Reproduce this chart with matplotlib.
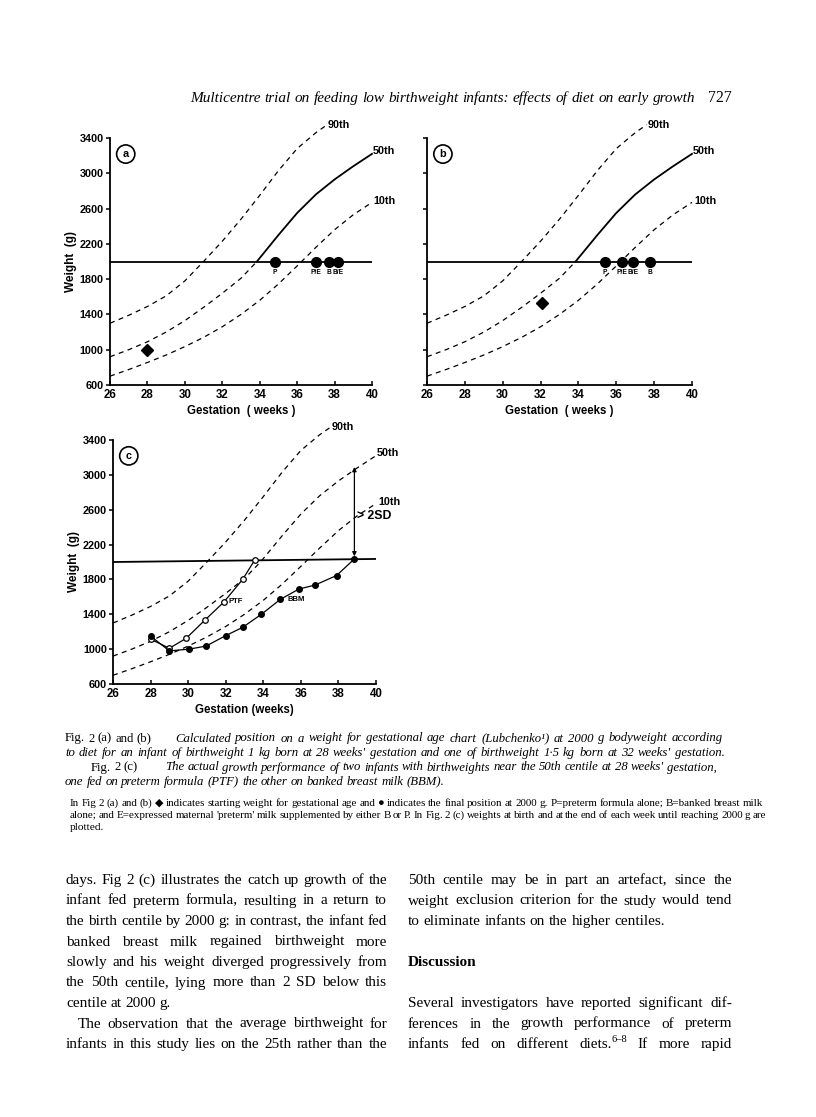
import matplotlib
matplotlib.use("Agg")
import matplotlib.pyplot as plt
from matplotlib import font_manager

W, H = 816, 1117

# ---- data ----
x_ticks = [26, 28, 30, 32, 34, 36, 38, 40]
y_ticks = [600, 1000, 1400, 1800, 2200, 2600, 3000, 3400]

# Lubchenko centiles (weeks, g)
weeks_90 = [26, 27, 28, 29, 30, 31, 32, 33, 34, 35, 36, 37, 37.6]
grams_90 = [1300, 1390, 1490, 1610, 1780, 2000, 2230, 2480, 2750, 3030, 3280, 3460, 3550]
weeks_50 = [26, 27, 28, 29, 30, 31, 32, 33, 33.85, 35, 36, 37, 38, 39, 40]
grams_50 = [920, 1000, 1090, 1200, 1330, 1480, 1640, 1810, 2000, 2300, 2550, 2760, 2930, 3080, 3220]
weeks_10 = [26, 27, 28, 29, 30, 31, 32, 33, 34, 35, 36, 37, 38, 39, 40]
grams_10 = [700, 775, 855, 940, 1035, 1140, 1260, 1400, 1560, 1745, 1950, 2160, 2360, 2530, 2670]

# panel (a): birthweight 1 kg at 28 weeks
start_a = (28, 1000)
final_a_weeks = [34.8, 37.0, 37.7, 38.2]
final_a_labels = ["P", "P/E", "B", "B/E"]
# panel (b): birthweight 1.5 kg at 32 weeks
start_b = (32.1, 1530)
final_b_weeks = [35.4, 36.3, 36.9, 37.8]
final_b_labels = ["P", "P/E", "B/E", "B"]

# panel (c): actual growth of two infants
ptf_weeks = [28.0, 29.0, 29.9, 30.9, 31.9, 32.9, 33.55]
ptf_grams = [1115, 1010, 1125, 1335, 1540, 1800, 2025]
bbm_weeks = [28.0, 29.0, 30.05, 30.95, 32.0, 32.9, 33.9, 34.9, 35.9, 36.75, 37.9, 38.85]
bbm_grams = [1150, 980, 1000, 1035, 1155, 1250, 1400, 1570, 1690, 1735, 1845, 2035]
hline_c = [2000, 2035]
sd_arrow = (38.85, 3090, 2065)

# ---- fonts ----
names = {f.name for f in font_manager.fontManager.ttflist}
chart_font = "Liberation Sans Narrow" if "Liberation Sans Narrow" in names else "Liberation Sans"
serif = ["Liberation Serif", "DejaVu Serif"]
plt.rcParams["font.family"] = [chart_font, "DejaVu Sans"]
plt.rcParams["font.weight"] = "bold"

fig = plt.figure(figsize=(W / 100, H / 100), dpi=100)
renderer = fig.canvas.get_renderer()


def rect(l, t, r, b):
    return [l / W, 1 - b / H, (r - l) / W, (b - t) / H]


def style_axes(ax, ylabels=True, xlabel="Gestation  ( weeks )"):
    ax.set_xlim(26, 40)
    ax.set_ylim(600, 3400)
    ax.set_xticks(x_ticks)
    ax.set_yticks(y_ticks)
    for s in ["top", "right"]:
        ax.spines[s].set_visible(False)
    for s in ["left", "bottom"]:
        ax.spines[s].set_linewidth(1.3)
    ax.tick_params(axis="y", direction="out", length=3, width=1.1, pad=1.5, labelsize=7.8,
                   labelleft=ylabels)
    ax.tick_params(axis="x", direction="in", length=3, width=1.1, pad=3, labelsize=8.3)
    ax.set_xlabel(xlabel, fontsize=8.3, fontweight="bold", labelpad=3)
    if ylabels:
        ax.set_ylabel("Weight  (g)", fontsize=8.5, fontweight="bold", labelpad=2)
    ax.patch.set_alpha(0)


dash = (0, (4, 3.5))


def centiles(ax, solid50):
    ax.plot(weeks_90, grams_90, color="black", lw=0.9, ls=dash, clip_on=False)
    ax.plot(weeks_10, grams_10, color="black", lw=0.9, ls=dash, clip_on=False)
    if solid50:
        k = weeks_50.index(33.85)
        ax.plot(weeks_50[:k + 1], grams_50[:k + 1], color="black", lw=0.9, ls=dash)
        ax.plot(weeks_50[k:], grams_50[k:], color="black", lw=1.3, clip_on=False)
    else:
        ax.plot(weeks_50, grams_50, color="black", lw=0.9, ls=dash, clip_on=False)
    kw = dict(fontsize=7.8, fontweight="bold", va="center", ha="left")
    ax.text(weeks_90[-1] + 0.05, grams_90[-1], "90th", **kw)
    ax.text(weeks_50[-1] + 0.05, grams_50[-1] + 30, "50th", **kw)
    ax.text(weeks_10[-1] + 0.1, grams_10[-1] + 20, "10th", **kw)


def panel_tag(ax, letter):
    ax.text(0.06, 0.935, letter, transform=ax.transAxes, fontsize=7.8, fontweight="bold",
            ha="center", va="center",
            bbox=dict(boxstyle="circle,pad=0.38", fc="white", ec="black", lw=1.2))


def finals(ax, weeks, labels):
    ax.plot(weeks, [2000] * len(weeks), "o", ms=7, color="black")
    for w, lab in zip(weeks, labels):
        ax.text(w, 1875, lab, fontsize=4.8, fontweight="bold", ha="center", va="center")


# ---- panel (a) ----
ax_a = fig.add_axes(rect(110, 138, 372, 385))
style_axes(ax_a)
centiles(ax_a, True)
ax_a.plot([26, 40], [2000, 2000], color="black", lw=1.3)
ax_a.plot(*start_a, marker="D", ms=6.5, color="black")
finals(ax_a, final_a_weeks, final_a_labels)
panel_tag(ax_a, "a")

# ---- panel (b) ----
ax_b = fig.add_axes(rect(427, 138, 692, 385))
style_axes(ax_b, ylabels=False)
centiles(ax_b, True)
ax_b.plot([26, 40], [2000, 2000], color="black", lw=1.3)
ax_b.plot(*start_b, marker="D", ms=6.5, color="black")
finals(ax_b, final_b_weeks, final_b_labels)
panel_tag(ax_b, "b")

# ---- panel (c) ----
ax_c = fig.add_axes(rect(113, 440, 376, 684))
style_axes(ax_c, xlabel="Gestation (weeks)")
centiles(ax_c, False)
ax_c.plot([26, 40], hline_c, color="black", lw=1.3)
ax_c.plot(ptf_weeks, ptf_grams, "-o", color="black", lw=0.9, ms=4, mfc="white", mew=0.9)
ax_c.plot(bbm_weeks, bbm_grams, "-o", color="black", lw=0.9, ms=4)
ax_c.annotate("", xy=(sd_arrow[0], sd_arrow[1]), xytext=(sd_arrow[0], sd_arrow[2]),
              arrowprops=dict(arrowstyle="<|-|>", lw=0.9, color="black", mutation_scale=6,
                              shrinkA=0, shrinkB=0))
ax_c.text(39.0, 2530, "> 2SD", fontsize=8.8, fontweight="bold", ha="left", va="center")
ax_c.text(32.15, 1545, "PTF", fontsize=5.5, fontweight="bold", ha="left", va="center")
ax_c.text(35.3, 1570, "BBM", fontsize=5.5, fontweight="bold", ha="left", va="center")
panel_tag(ax_c, "c")


# ---- page text ----
def place(text, props, x0, y, x1=None):
    """Draw the words of text from x0 on baseline y (page pixels); with x1 the
    line is justified to end at x1, shrinking the type if it would not fit."""
    words = text.split()
    props = dict(props)
    while True:
        objs = [fig.text(0, 1 - y / H, w, va="baseline", ha="left", **props) for w in words]
        widths = [t.get_window_extent(renderer).width for t in objs]
        em = props["fontsize"] * 100 / 72
        gap = em * 0.25
        if x1 is None or len(words) < 2:
            break
        gap = (x1 - x0 - sum(widths)) / (len(words) - 1)
        if gap >= em * 0.18:
            break
        for t in objs:
            t.remove()
        props["fontsize"] *= 0.97
    x = x0
    for t, wd in zip(objs, widths):
        t.set_x(x / W)
        x += wd + gap
    return x


hdr = dict(fontsize=11.3, family=serif, style="italic", weight="normal")
place("Multicentre trial on feeding low birthweight infants: effects of diet on early growth", hdr,
      190, 102, 695)
fig.text(732 / W, 1 - 102 / H, "727", fontsize=11.3, family=serif, weight="normal",
         ha="right", va="baseline")

cap_r = dict(fontsize=9.2, family=serif, weight="normal")
cap_i = dict(fontsize=9.2, family=serif, weight="normal", style="italic")
place("Fig. 2 (a) and (b)", cap_r, 65, 741.5)
place("Calculated position on a weight for gestational age chart (Lubchenko\u00b9) at 2000 g bodyweight according",
      cap_i, 175, 741.5, 723)
place("to diet for an infant of birthweight 1 kg born at 28 weeks' gestation and one of birthweight 1\u00b75 kg born at 32 weeks' gestation.",
      cap_i, 65, 756, 725)
place("Fig. 2 (c)", cap_r, 91, 770.5)
place("The actual growth performance of two infants with birthweights near the 50th centile at 28 weeks' gestation,",
      cap_i, 165, 770.5)
place("one fed on preterm formula (PTF) the other on banked breast milk (BBM).", cap_i, 65, 785)

note = dict(fontsize=8.2, family=["Liberation Serif", "DejaVu Sans"], weight="normal")
place("In Fig 2 (a) and (b) \u25c6 indicates starting weight for gestational age and \u25cf indicates the final "
      "position at 2000 g. P=preterm formula alone; B=banked breast milk", note, 70, 806, 763)
place("alone; and E=expressed maternal 'preterm' milk supplemented by either B or P. In Fig. 2 (c) weights "
      "at birth and at the end of each week until reaching 2000 g are", note, 70, 818, 766)
place("plotted.", note, 70, 830)

body = dict(fontsize=11, family=serif, weight="normal")
left_lines = [
    ("days. Fig 2 (c) illustrates the catch up growth of the", True),
    ("infant fed preterm formula, resulting in a return to", True),
    ("the birth centile by 2000 g: in contrast, the infant fed", True),
    ("banked breast milk regained birthweight more", True),
    ("slowly and his weight diverged progressively from", True),
    ("the 50th centile, lying more than 2 SD below this", True),
    ("centile at 2000 g.", False),
    ("The observation that the average birthweight for", True),
    ("infants in this study lies on the 25th rather than the", True),
]
y0, dy = 884, 20.5
for i, (line, just) in enumerate(left_lines):
    x0 = 78 if line.startswith("The obs") else 66
    place(line, body, x0, y0 + i * dy, 387 if just else None)

right_lines = [
    (0, "50th centile may be in part an artefact, since the", True),
    (1, "weight exclusion criterion for the study would tend", True),
    (2, "to eliminate infants on the higher centiles.", False),
    (6, "Several investigators have reported significant dif-", True),
    (7, "ferences in the growth performance of preterm", True),
]
for i, line, just in right_lines:
    place(line, body, 408, y0 + i * dy, 732 if just else None)
fig.text(408 / W, 1 - (y0 + 4 * dy) / H, "Discussion", fontsize=11, family=serif,
         weight="bold", va="baseline")

# last line with the reference superscript
yl = y0 + 8 * dy
words = ["infants", "fed", "on", "different", "diets."]
objs, widths = [], []
for w in words + ["If", "more", "rapid"]:
    t = fig.text(0, 1 - yl / H, w, va="baseline", **body)
    objs.append(t)
    widths.append(t.get_window_extent(renderer).width)
sup = fig.text(0, 1 - (yl - 6) / H, "6\u20138", fontsize=7.5, family=serif, weight="normal",
               va="baseline")
sup_w = sup.get_window_extent(renderer).width
gap = (732 - 408 - sum(widths) - sup_w) / (len(objs) - 1)
x = 408
for k, (t, wd) in enumerate(zip(objs, widths)):
    t.set_x(x / W)
    x += wd
    if k == len(words) - 1:
        sup.set_x(x / W)
        x += sup_w
    x += gap

fig.savefig("out.png", dpi=100)
